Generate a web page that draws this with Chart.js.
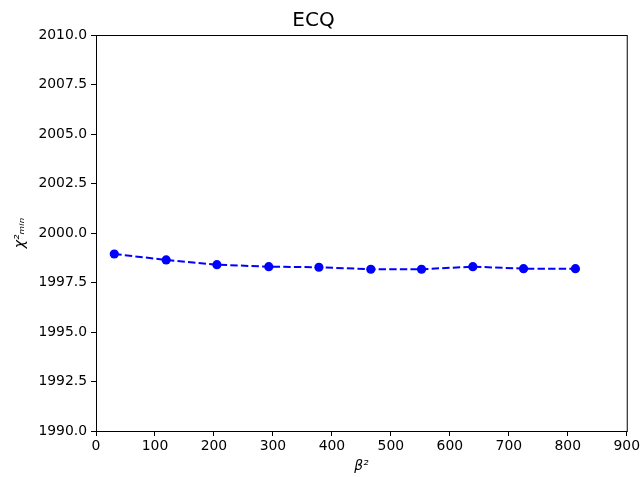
<!DOCTYPE html>
<html>
<head>
<meta charset="utf-8">
<script src="https://cdn.jsdelivr.net/npm/chart.js@4/dist/chart.umd.min.js"></script>
<style>
  html, body { margin: 0; padding: 0; background: #fff; }
  #wrap { width: 642px; height: 477px; }
</style>
</head>
<body>
<div id="wrap"><canvas id="chart" width="642" height="477"></canvas></div>
<script>
// valores
let beta2 = [31, 119, 205, 293, 378, 466, 552, 639, 725, 813];
let chi2min = [1998.94, 1998.64, 1998.40, 1998.30, 1998.27, 1998.17, 1998.17, 1998.30, 1998.20, 1998.20];
let xTicks = [0, 100, 200, 300, 400, 500, 600, 700, 800, 900];
let yTicks = [1990, 1992.5, 1995, 1997.5, 2000, 2002.5, 2005, 2007.5, 2010];

let puntos = beta2.map((b, i) => ({x: b, y: chi2min[i]}));

// marco completo alrededor del area del grafico
let marco = {
  id: 'marco',
  afterDraw(chart) {
    let a = chart.chartArea;
    let c = chart.ctx;
    c.save();
    c.strokeStyle = '#000';
    c.lineWidth = 1;
    c.strokeRect(a.left + 0.5, a.top + 0.5, a.right - a.left, a.bottom - a.top);
    c.restore();
  }
};

Chart.defaults.font.family = '"DejaVu Sans", sans-serif';
Chart.defaults.color = '#000';

var ctx = document.getElementById('chart').getContext('2d');
var chart = new Chart(ctx, {
  type: 'scatter',
  data: {
    datasets: [{
      data: puntos,
      showLine: true,
      borderColor: '#0000ff',
      backgroundColor: '#0000ff',
      borderWidth: 2,
      borderDash: [7.4, 3.2],
      pointRadius: 4.6,
      pointHoverRadius: 4.6,
      pointBorderWidth: 0
    }]
  },
  options: {
    responsive: false,
    animation: false,
    layout: { padding: { right: 15, left: 0, top: 0, bottom: 0 } },
    plugins: {
      legend: { display: false },
      tooltip: { enabled: false },
      title: {
        display: true,
        text: 'ECQ',
        font: { size: 20, weight: 'normal' },
        padding: { top: 9, bottom: 2 }
      }
    },
    scales: {
      x: {
        type: 'linear',
        min: 0,
        max: 900,
        afterBuildTicks: (s) => { s.ticks = xTicks.map(v => ({value: v})); },
        afterFit: (s) => { s.height = 46; },
        grid: { drawOnChartArea: false, tickLength: 5, color: '#000', tickColor: '#000' },
        border: { color: '#000' },
        ticks: { font: { size: 13.9 }, padding: 2, maxRotation: 0 },
        title: { display: true, text: 'β²', font: { size: 13.9, style: 'italic' }, padding: { top: 0, bottom: 2 } }
      },
      y: {
        min: 1990,
        max: 2010,
        afterBuildTicks: (s) => { s.ticks = yTicks.map(v => ({value: v})); },
        afterFit: (s) => { s.width = 96; },
        grid: { drawOnChartArea: false, tickLength: 5, color: '#000', tickColor: '#000' },
        border: { color: '#000' },
        ticks: { font: { size: 13.9 }, padding: 4, callback: (v) => v.toFixed(1) },
        title: { display: true, text: 'χ²ₘᵢₙ', font: { size: 13.9, style: 'italic' }, padding: { top: 12, bottom: 0 } }
      }
    }
  },
  plugins: [marco]
});
</script>
</body>
</html>
